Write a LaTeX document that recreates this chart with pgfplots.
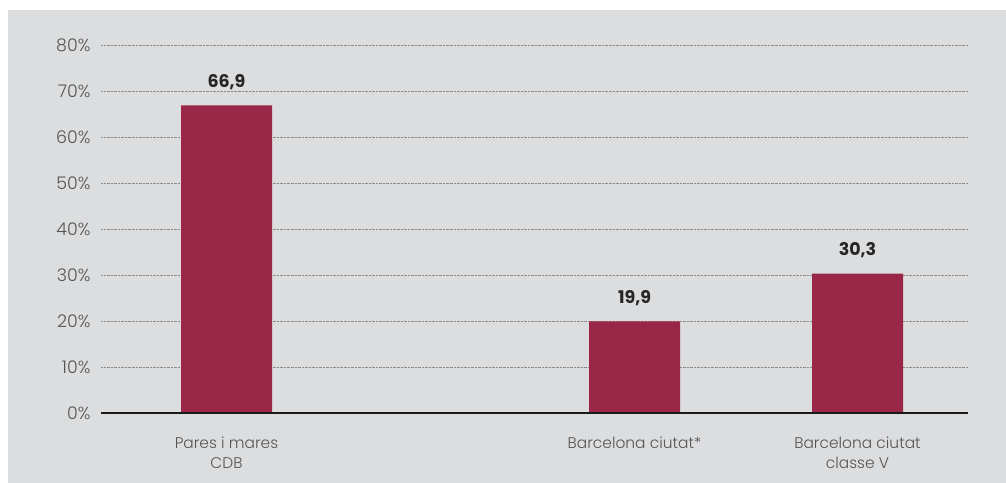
\documentclass[border=0pt]{standalone}
\usepackage{pgfplots}
\pgfplotsset{compat=1.18}
\usepackage{fontspec}
\setmainfont{Poppins}[UprightFont={* Light},BoldFont={* Bold}]
\definecolor{bg}{HTML}{DCDDDF}
\definecolor{barred}{HTML}{9B2748}
\definecolor{txt}{HTML}{555555}
\definecolor{gridc}{HTML}{8A8A8A}
\begin{document}
\begin{tikzpicture}[x=1bp,y=1bp]
\fill[white] (-101,-70) rectangle (905,413);
\fill[bg] (-93,-70) rectangle (905,403);
\begin{axis}[
  scale only axis,
  width=867bp, height=368bp,
  xmin=0, xmax=867, ymin=0, ymax=80,
  axis lines=left,
  axis line style={draw=none},
  major tick length=0pt,
  ytick={0,10,...,80},
  yticklabel={\pgfmathprintnumber[assume math mode=true]{\tick}\%},
  yticklabel style={font=\fontsize{17.5}{18}\selectfont, text=txt, xshift=-7bp},
  xtick={125.5,533.5,756.5},
  xticklabels={{Pares i mares\\CDB},{Barcelona ciutat*},{Barcelona ciutat\\classe V}},
  xticklabel style={font=\fontsize{15.5}{20}\selectfont, text=txt, align=center, yshift=-20bp},
  ymajorgrids,
  grid style={gridc, densely dotted, line width=0.6bp},
  axis on top=false,
  clip=false,
]
\addplot[ybar, bar width=91, fill=barred, draw=none,
  nodes near coords={\pgfmathprintnumber[use comma,fixed,fixed zerofill,precision=1,assume math mode=true]{\pgfplotspointmeta}},
  nodes near coords style={font=\bfseries\fontsize{17.5}{18}\selectfont, text=black!85, yshift=12bp}]
  coordinates {(125.5,66.9) (533.5,19.9) (756.5,30.3)};
\draw[black!90, line width=2.6bp] (axis cs:0,0) -- (axis cs:867,0);
\end{axis}
\end{tikzpicture}
\end{document}
